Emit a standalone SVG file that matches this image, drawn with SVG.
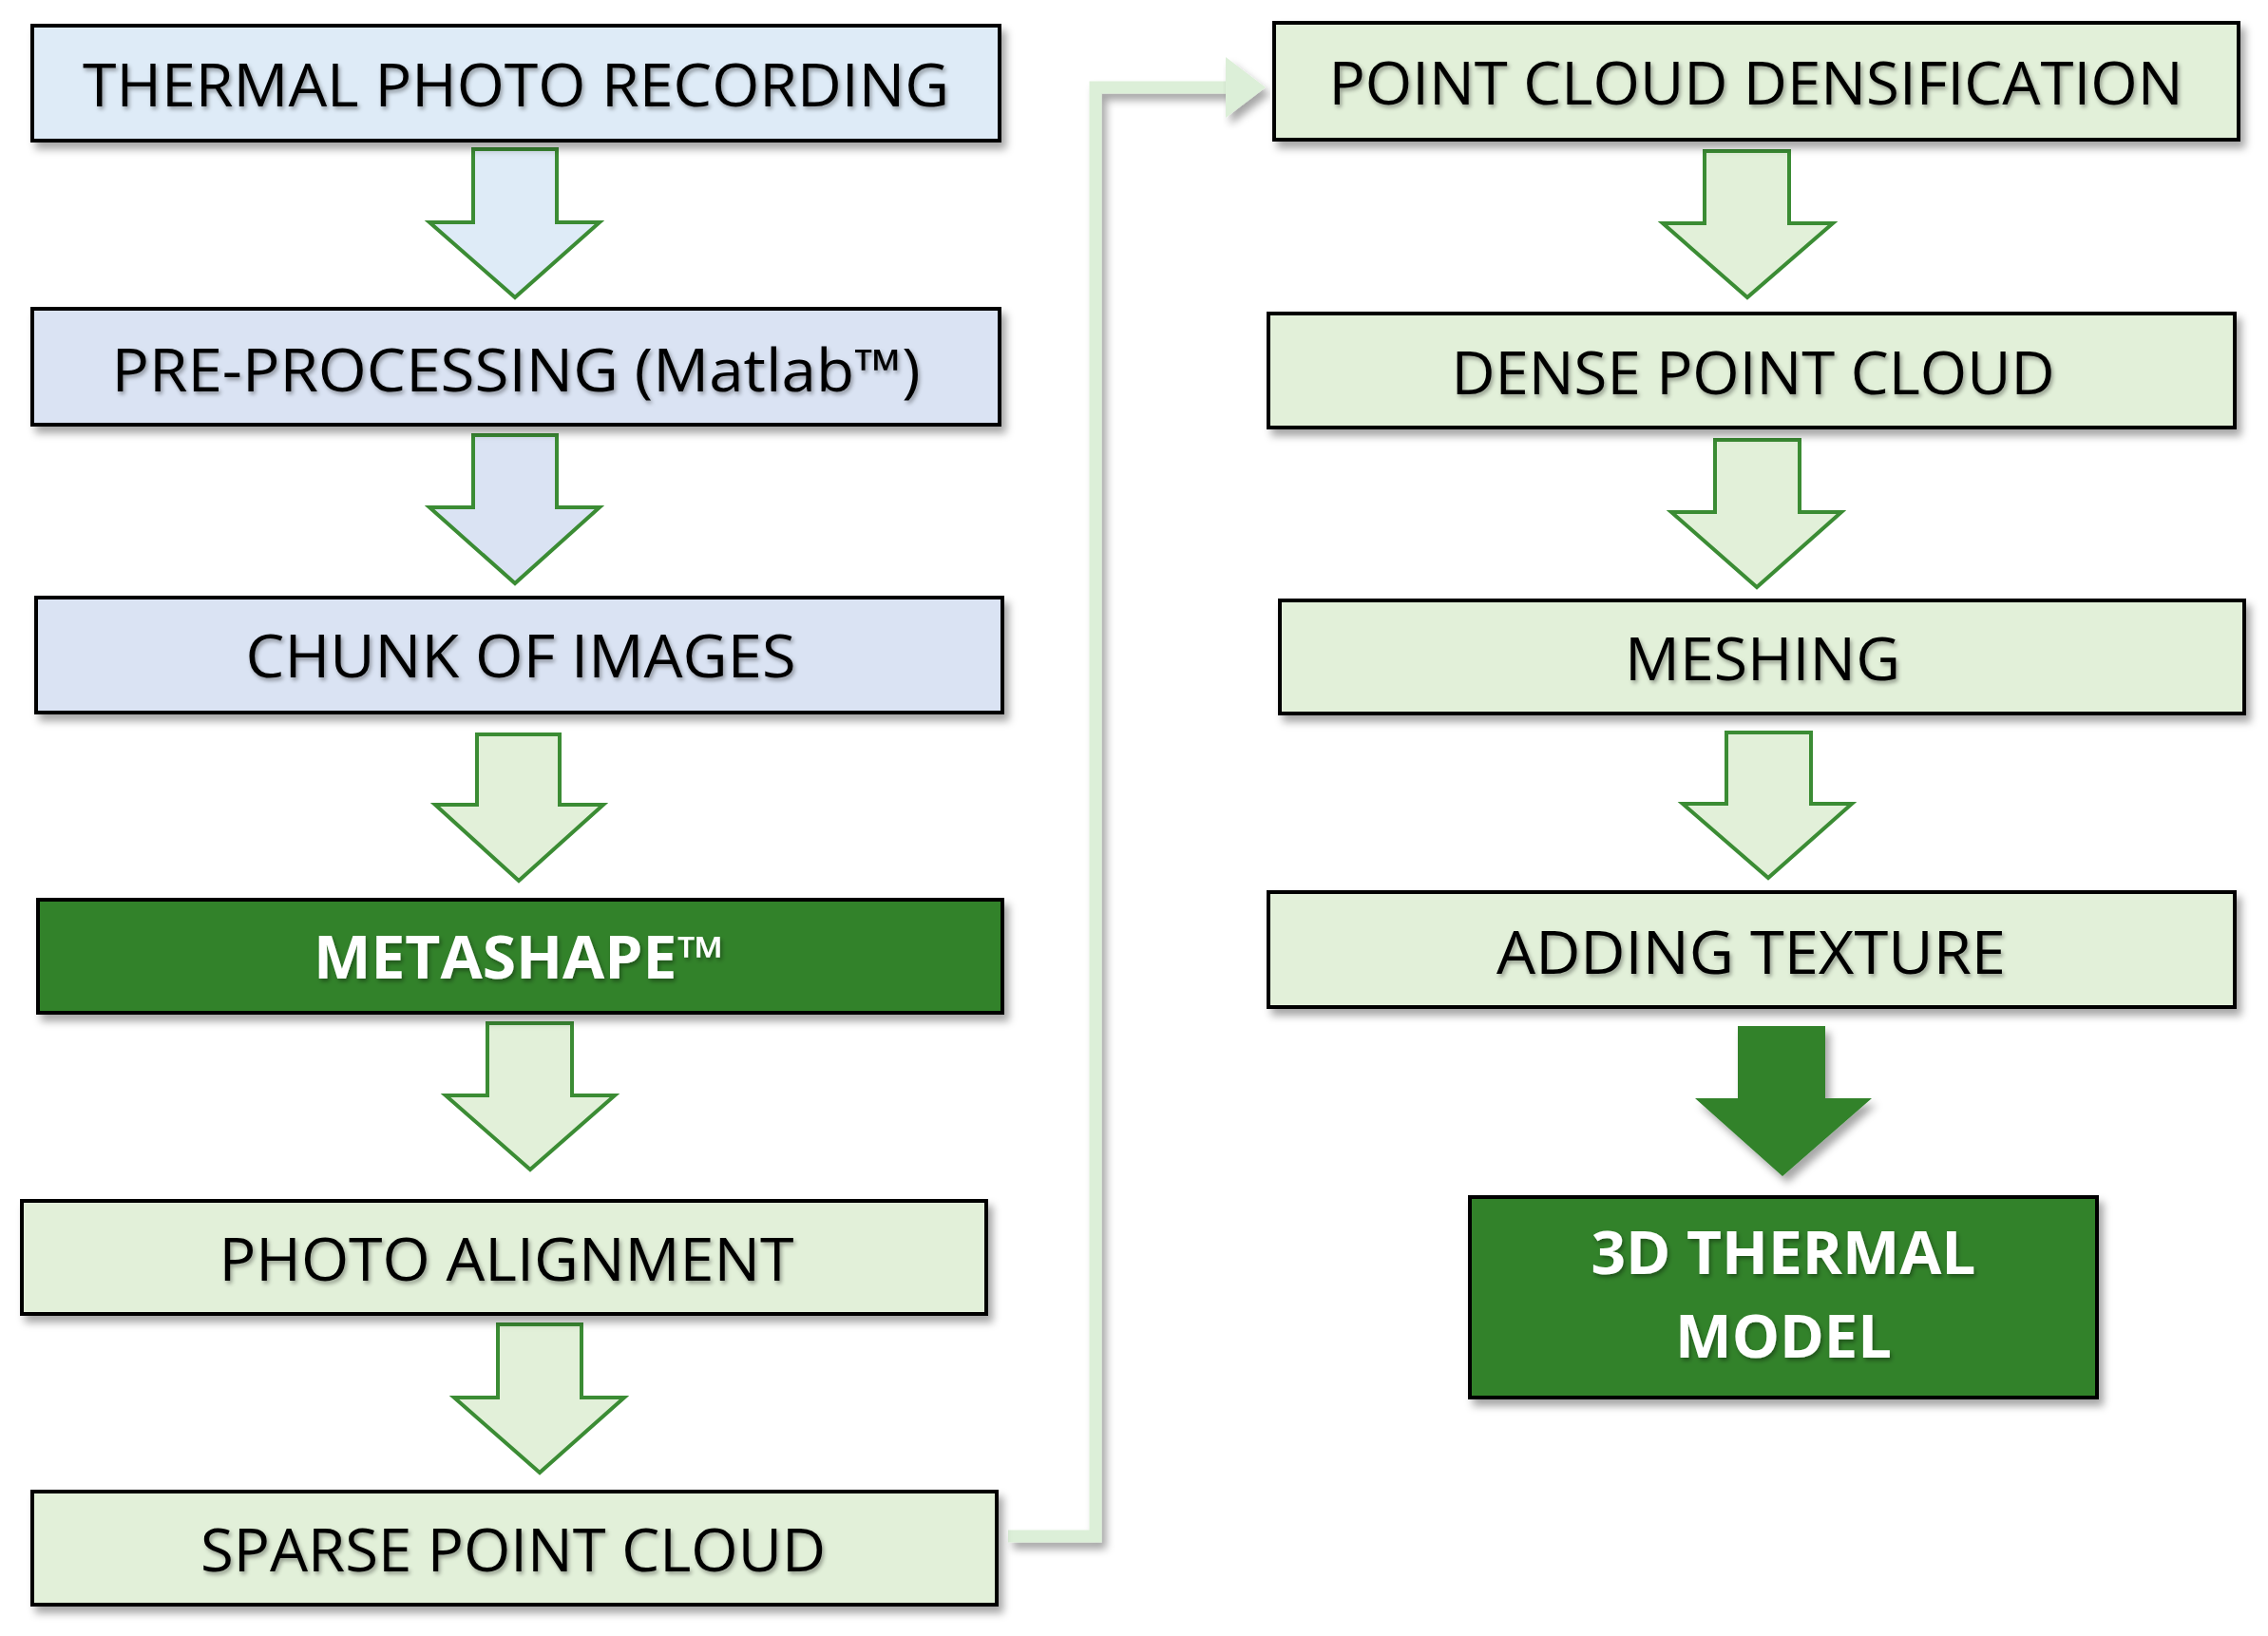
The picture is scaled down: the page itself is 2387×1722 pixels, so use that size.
<svg xmlns="http://www.w3.org/2000/svg" width="2387" height="1722" viewBox="0 0 2387 1722">
<defs>
<style>
.box{stroke:#000;stroke-width:4;filter:url(#sh)}
.blue1{fill:#deebf7}.blue{fill:#dae3f3}.lg{fill:#e2f0d9}.dg{fill:#31822c}
.t{font-family:"Open Sans","Liberation Sans",sans-serif;font-size:62px;text-anchor:middle;fill:#000;filter:url(#tsh)}
.w{fill:#fff;font-weight:bold}
.arr{stroke:#3b8c34;stroke-width:4;stroke-linejoin:miter}
</style>
<filter id="sh" x="-5%" y="-10%" width="115%" height="130%"><feDropShadow dx="5" dy="7" stdDeviation="4" flood-color="#000" flood-opacity="0.35"/></filter>
<filter id="tsh"><feDropShadow dx="2" dy="3" stdDeviation="2" flood-color="#000" flood-opacity="0.35"/></filter>
</defs>
<rect width="2387" height="1722" fill="#fff"/>
<g id="connectors">
<path class="arr blue1" d="M498,157H586V234H631L542,313L452,234H498Z"/>
<path class="arr blue" d="M498,458H586V534H631L542,614L452,534H498Z"/>
<path class="arr lg" d="M502,773H589V847H635L546,927L458,847H502Z"/>
<path class="arr lg" d="M513,1077H602V1153H647L558,1231L469,1153H513Z"/>
<path class="arr lg" d="M524,1394H612V1471H657L568,1550L478,1471H524Z"/>
<path class="arr lg" d="M1794,159H1883V235H1929L1839,313L1750,235H1794Z"/>
<path class="arr lg" d="M1805,463H1894V539H1938L1849,618L1759,539H1805Z"/>
<path class="arr lg" d="M1817,771H1906V846H1949L1861,924L1771,846H1817Z"/>
<path fill="#31822c" filter="url(#sh)" d="M1829,1080H1921V1156H1970L1876,1238L1784,1156H1829Z"/>
<path d="M1061,1617H1153V92H1300" fill="none" stroke="#dcefd8" stroke-width="13" filter="url(#sh)"/>
<path d="M1290,60L1332,92L1290,124Z" fill="#dcefd8" filter="url(#sh)"/>
</g>
<g id="n1"><rect class="box blue1" x="34" y="27" width="1018" height="121"/><text class="t" x="543" y="112" textLength="912" lengthAdjust="spacingAndGlyphs">THERMAL PHOTO RECORDING</text></g>
<g id="n2"><rect class="box blue" x="34" y="325" width="1018" height="122"/><text class="t" x="543" y="412" textLength="851" lengthAdjust="spacingAndGlyphs">PRE-PROCESSING (Matlab™)</text></g>
<g id="n3"><rect class="box blue" x="38" y="629" width="1017" height="121"/><text class="t" x="548" y="713" textLength="579" lengthAdjust="spacingAndGlyphs">CHUNK OF IMAGES</text></g>
<g id="n4"><rect class="box dg" x="40" y="947" width="1015" height="119"/><text class="t w" x="546" y="1030" textLength="432" lengthAdjust="spacingAndGlyphs">METASHAPE™</text></g>
<g id="n5"><rect class="box lg" x="23" y="1264" width="1015" height="119"/><text class="t" x="533" y="1348" textLength="605" lengthAdjust="spacingAndGlyphs">PHOTO ALIGNMENT</text></g>
<g id="n6"><rect class="box lg" x="34" y="1570" width="1015" height="119"/><text class="t" x="540" y="1654" textLength="658" lengthAdjust="spacingAndGlyphs">SPARSE POINT CLOUD</text></g>
<g id="r1"><rect class="box lg" x="1341" y="24" width="1015" height="123"/><text class="t" x="1848" y="110" textLength="899" lengthAdjust="spacingAndGlyphs">POINT CLOUD DENSIFICATION</text></g>
<g id="r2"><rect class="box lg" x="1335" y="330" width="1017" height="120"/><text class="t" x="1845" y="415" textLength="635" lengthAdjust="spacingAndGlyphs">DENSE POINT CLOUD</text></g>
<g id="r3"><rect class="box lg" x="1347" y="632" width="1015" height="119"/><text class="t" x="1855" y="716" textLength="290" lengthAdjust="spacingAndGlyphs">MESHING</text></g>
<g id="r4"><rect class="box lg" x="1335" y="939" width="1017" height="121"/><text class="t" x="1843" y="1025" textLength="536" lengthAdjust="spacingAndGlyphs">ADDING TEXTURE</text></g>
<g id="r5"><rect class="box dg" x="1547" y="1260" width="660" height="211"/><text class="t w" x="1877" y="1341" textLength="405" lengthAdjust="spacingAndGlyphs">3D THERMAL</text><text class="t w" x="1877" y="1429" textLength="228" lengthAdjust="spacingAndGlyphs">MODEL</text></g>
</svg>
